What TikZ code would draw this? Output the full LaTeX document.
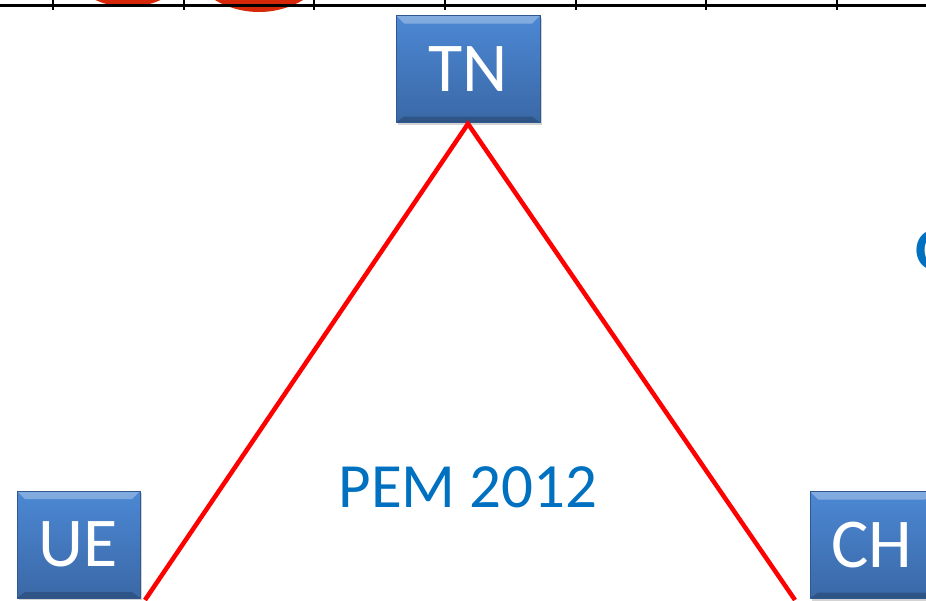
\documentclass[tikz,border=0pt]{standalone}
\usepackage{fontspec}
\setmainfont{Carlito}
\usetikzlibrary{shadows}
\definecolor{boxtop}{RGB}{76,136,212}
\definecolor{boxbot}{RGB}{58,104,166}
\definecolor{boxline}{RGB}{48,88,142}
\definecolor{pemblue}{RGB}{0,112,192}
\definecolor{bulle}{RGB}{214,40,8}
\tikzset{
  pays/.style={draw=boxline, line width=0.6pt, top color=boxtop, bottom color=boxbot,
    text=white, inner sep=0pt, minimum height=107pt,
    font=\fontsize{70}{70}\selectfont,
    drop shadow={opacity=0.35, shadow xshift=1.5pt, shadow yshift=-2pt},
    path picture={
      \fill[white, opacity=0.3] (path picture bounding box.north west)
        -- (path picture bounding box.north east) -- ++(-8pt,-8pt)
        -- ([xshift=8pt,yshift=-8pt]path picture bounding box.north west) -- cycle;
      \fill[black, opacity=0.2] (path picture bounding box.south west)
        -- (path picture bounding box.south east) -- ++(-8pt,6pt)
        -- ([xshift=8pt,yshift=6pt]path picture bounding box.south west) -- cycle;}},
  cote/.style={red, line width=4.5pt}
}
\begin{document}
\begin{tikzpicture}[x=1pt,y=-1pt]%[scale = 0.9]
    \useasboundingbox (0,0) rectangle (926,600);
    \clip (0,0) rectangle (926,600);
    % bulles et axe du haut
    \fill[bulle] (128,-72) circle (79);
    \fill[bulle] (259,-75) circle (87);
    \draw[line width=2.5pt] (0,5.5) -- (926,5.5);
    \foreach \x in {53,184,314,445,576,706,837}
        \draw[line width=2.5pt] (\x,0) -- (\x,10);
    % triangle
    \node[pays, minimum width=144pt] (tn) at (468,69) {TN};
    \node[pays, minimum width=123pt] (ue) at (78.5,544.5) {UE};
    \node[pays, minimum width=123pt] (ch) at (871.5,545) {CH};
    \coordinate (bg) at (145,600);
    \coordinate (bd) at (795,600);
    \draw[cote] (bg) -- ([yshift=-1pt]tn.south) -- (bd);
    \node[pemblue, font=\fontsize{63}{63}\selectfont] (pem) at (468,487) {PEM 2012};
    \node[pemblue, anchor=west, inner sep=0pt, font=\bfseries\fontsize{62}{62}\selectfont] (suite) at (915,250) {O};
\end{tikzpicture}
\end{document}
